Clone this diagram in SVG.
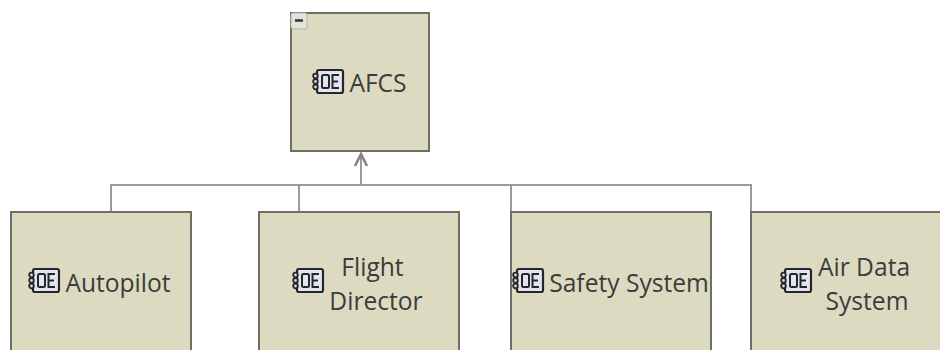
<svg xmlns="http://www.w3.org/2000/svg" width="940" height="350" viewBox="0 0 940 350">
<defs>
<style>
.box{fill:#dcdbc2;stroke:#6f6f66;stroke-width:2}
.lbl{font-family:"Open Sans","Noto Sans","Liberation Sans",sans-serif;font-size:24.6px;fill:#3c3c3a;text-anchor:middle}
.conn{fill:none;stroke:#9b9b98;stroke-width:2}
.arrow{fill:none;stroke:#85857f;stroke-width:2.6}
</style>
<g id="oe">
<rect x="4" y="0" width="26" height="23" rx="2" fill="#e4e4ee" stroke="#23262c" stroke-width="2.2"/>
<circle cx="2.5" cy="6" r="2.3" fill="#dcdbc2" stroke="#23262c" stroke-width="1.8"/>
<circle cx="2.5" cy="11.5" r="2.3" fill="#dcdbc2" stroke="#23262c" stroke-width="1.8"/>
<circle cx="2.5" cy="17" r="2.3" fill="#dcdbc2" stroke="#23262c" stroke-width="1.8"/>
<rect x="9" y="5" width="7" height="13" rx="1.5" fill="none" stroke="#23262c" stroke-width="2"/>
<path d="M26 5H19.5V18H26M19.5 11.5H25" fill="none" stroke="#23262c" stroke-width="2"/>
</g>
</defs>
<rect width="940" height="350" fill="#fff"/>
<g id="connectors">
<path class="conn" d="M111 212V185H751V212M299 212V185M511 212V185M361 185V154"/>
<path class="arrow" d="M355 166L361 154L367 166"/>
</g>
<g id="afcs">
<rect class="box" x="291" y="13" width="138" height="138"/>
<rect x="291" y="13" width="16" height="16" rx="2" fill="#e4e4dc" stroke="#b5b5ac"/>
<path d="M295 20.500H303" stroke="#33332f" stroke-width="2.500"/>
<use href="#oe" x="313" y="70"/>
<text class="lbl" x="378" y="92">AFCS</text>
</g>
<g id="autopilot">
<rect class="box" x="11" y="212" width="180" height="150"/>
<use href="#oe" x="29" y="269"/>
<text class="lbl" x="118" y="292">Autopilot</text>
</g>
<g id="flight-director">
<rect class="box" x="259" y="212" width="200" height="150"/>
<use href="#oe" x="293" y="269"/>
<text class="lbl" x="372.500" y="276">Flight</text>
<text class="lbl" x="376" y="310">Director</text>
</g>
<g id="safety-system">
<rect class="box" x="511" y="212" width="200" height="150"/>
<use href="#oe" x="513" y="269"/>
<text class="lbl" x="629" y="292">Safety System</text>
</g>
<g id="air-data-system">
<rect class="box" x="751" y="212" width="200" height="150"/>
<use href="#oe" x="781" y="269"/>
<text class="lbl" x="864" y="276">Air Data</text>
<text class="lbl" x="867" y="310">System</text>
</g>
</svg>
